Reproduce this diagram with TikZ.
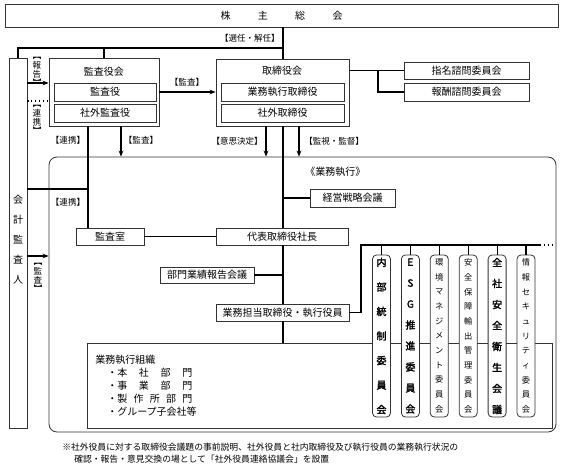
\documentclass[tikz,border=0pt]{standalone}
\usepackage{fontspec}
\setmainfont{Noto Sans CJK JP}[AutoFakeBold=2]
\usetikzlibrary{arrows.meta}
\newcommand\mkbox[7][]{\node[box,#1,minimum width={(#5-#3)*0.75pt},minimum height={(#6-#4)*0.75pt}] (#2) at ({(#3+#5)/2},{(#4+#6)/2}) {#7};}
\newcommand\cmt[4]{\node[box,rounded corners=3pt,minimum width=13.5pt,minimum height=121.5pt,align=center,font=#3] (#1) at (#2,336) {#4};
  \draw[conn] (#1.north) -- (#1.north |- b1);}
\newcommand\vlab[5]{%
  \node[lbl,rotate=-90] (#1a) at (#2,#3) {【};
  \node[lbl] (#1b) at (#2,#3+9) {#4};
  \node[lbl] (#1c) at (#2,#3+18) {#5};
  \node[lbl,rotate=-90] (#1d) at (#2,#3+27) {】};}
\begin{document}
\begin{tikzpicture}[x=0.75pt,y=-0.75pt,
 box/.style={draw=black!80,line width=0.6pt,fill=white,inner sep=0pt,font=\fontsize{7.5}{9}\selectfont},
 conn/.style={line width=0.9pt,draw=black},
 arr/.style={conn,-{Stealth[length=4.5pt,width=3.5pt]}},
 lbl/.style={inner sep=0pt,font=\fontsize{6.4}{7}\selectfont},
 txt/.style={inner sep=0pt,font=\fontsize{7.5}{9}\selectfont},
]
\useasboundingbox (0,0) rectangle (565,471);

% coordinates
\coordinate (bus) at (283,48);
\coordinate (xA) at (266,0);
\coordinate (xB) at (283,0);
\coordinate (xC) at (299,0);
\coordinate (xK) at (121,0);
\coordinate (xR) at (88,0);
\coordinate (xS) at (378,0);
\coordinate (yR) at (0,83);
\coordinate (yD) at (0,101);
\coordinate (yK) at (0,256);
\coordinate (yL) at (0,189);
\coordinate (b1) at (361,245);
\coordinate (b2) at (540,245);
\coordinate (b3) at (553,245);

% top boxes
\mkbox{gm}{5}{4}{558}{27}{株\hspace{20.5pt}主\hspace{20.5pt}総\hspace{20.5pt}会}
\mkbox{kaikei}{9}{58}{27}{428}{}
\node[txt,align=center,font=\fontsize{7.5}{15}\selectfont] (kaikeit) at (18,240) {会\\計\\監\\査\\人};
\mkbox{kyk}{49}{58}{159}{126}{}
\node[txt] (kykt) at (104,72) {監査役会};
\mkbox{ky}{54}{83}{156}{101}{監査役}
\mkbox{sky}{54}{104}{156}{122}{社外監査役}
\mkbox{tori}{216}{59}{349}{126}{}
\node[txt] (torit) at (282,71) {取締役会};
\mkbox{gt}{221}{83}{344}{101}{業務執行取締役}
\mkbox{st}{221}{104}{344}{122}{社外取締役}
\mkbox{shimei}{404}{62}{529}{79}{指名諮問委員会}
\mkbox{hoshu}{404}{83}{529}{101}{報酬諮問委員会}

% execution area
\mkbox[rounded corners=6pt]{exec}{49}{157}{556}{432}{}
\node[txt,anchor=west] (gyomut) at (305,172) {《業務執行》};
\mkbox{keiei}{310}{189}{395}{207}{経営戦略会議}
\mkbox{daihyo}{216}{228}{348}{245}{代表取締役社長}
\mkbox{kansa}{76}{228}{144}{245}{監査室}
\mkbox{bumon}{160}{267}{254}{283}{部門業績報告会議}
\mkbox{gyomu}{216}{304}{349}{321}{業務担当取締役・執行役員}
\mkbox{org}{87}{343}{552}{428}{}
\node[txt,anchor=north west,align=left,font=\fontsize{7.5}{9.75}\selectfont] (orgt) at (95,355)
 {業務執行組織\\
  \hspace*{1.2em}・\makebox[7.5em][s]{本\hfill 社\hfill 部\hfill 門}\\
  \hspace*{1.2em}・\makebox[7.5em][s]{事\hfill 業\hfill 部\hfill 門}\\
  \hspace*{1.2em}・\makebox[7.5em][s]{製\hfill 作\hfill 所\hfill 部\hfill 門}\\
  \hspace*{1.2em}・グループ子会社等};

% connectors
\draw[conn] (gm.south -| bus) -- (tori.north -| bus);
\draw[conn] (kaikei.north) |- (bus);
\draw[conn] (kyk.north) -- (kyk.north |- bus);
\draw[arr] (kyk.east |- ky.east) -- (tori.west |- ky.east);
\draw[conn] (tori.east |- shimei.west) -- (shimei.west);
\draw[conn] (shimei.west -| xS) |- (hoshu.west);
\draw[arr] (kaikei.east |- yR) -- (kyk.west |- yR);
\draw[conn,dotted] (kaikei.east |- yD) -- (kyk.west |- yD);
\draw[arr] (kaikei.east |- yK) -- (exec.west |- yK);
\draw[conn] (kaikei.east |- yL) -- (xR |- yL);
\draw[conn] (kyk.south -| xR) -- (kansa.north -| xR);
\draw[arr] (kyk.south -| xK) -- (exec.north -| xK);
\draw[arr] (tori.south -| xA) -- (exec.north -| xA);
\draw[arr] (tori.south -| xC) -- (exec.north -| xC);
\draw[conn] (tori.south -| xB) -- (daihyo.north -| xB);
\draw[conn] (keiei.west) -- (keiei.west -| xB);
\draw[conn] (kansa.east) -- (daihyo.west);
\draw[conn] (daihyo.south -| xB) -- (gyomu.north -| xB);
\draw[conn] (bumon.east) -- (bumon.east -| xB);
\draw[conn] (gyomu.south -| xB) -- (org.north -| xB);
\draw[conn] (gyomu.east) -| (b1) -- (b2);
\draw[conn,dotted] (b2) -- (b3);

% committees
\cmt{c1}{381.5}{\fontsize{7.5}{18.4}\selectfont\bfseries}{内\\部\\統\\制\\委\\員\\会}
\cmt{c2}{410.4}{\fontsize{7.5}{15.75}\selectfont\bfseries}{E\\S\\G\\推\\進\\委\\員\\会}
\cmt{c3}{439.3}{\fontsize{6.2}{11}\selectfont}{環\\境\\マ\\ネ\\ジ\\メ\\ン\\ト\\委\\員\\会}
\cmt{c4}{468.2}{\fontsize{6.2}{11}\selectfont}{安\\全\\保\\障\\輸\\出\\管\\理\\委\\員\\会}
\cmt{c5}{497.1}{\fontsize{7.5}{15.75}\selectfont\bfseries}{全\\社\\安\\全\\衛\\生\\会\\議}
\cmt{c6}{526}{\fontsize{6.2}{11}\selectfont}{情\\報\\セ\\キ\\ュ\\リ\\テ\\ィ\\委\\員\\会}

% labels
\node[lbl,anchor=east] (l1) at (280,38) {【選任・解任】};
\node[lbl] (l2) at (187,82) {【監査】};
\vlab{l3}{37}{56}{報}{告}
\vlab{l4}{37}{104}{連}{携}
\vlab{l5}{38}{262}{監}{査}
\node[lbl] (l6) at (68,140) {【連携】};
\node[lbl] (l7) at (68,202) {【連携】};
\node[lbl] (l8) at (141,140) {【監査】};
\node[lbl,anchor=east] (l9) at (263,141) {【意思決定】};
\node[lbl,anchor=west] (l10) at (304,141) {【監視・監督】};

% footnote
\node[anchor=west,inner sep=0pt,font=\fontsize{6.6}{8}\selectfont] (fn1) at (62,447) {※社外役員に対する取締役会議題の事前説明、社外役員と社内取締役及び執行役員の業務執行状況の};
\node[anchor=west,inner sep=0pt,font=\fontsize{6.6}{8}\selectfont] (fn2) at (74,459) {確認・報告・意見交換の場として「社外役員連絡協議会」を設置};
\end{tikzpicture}
\end{document}
